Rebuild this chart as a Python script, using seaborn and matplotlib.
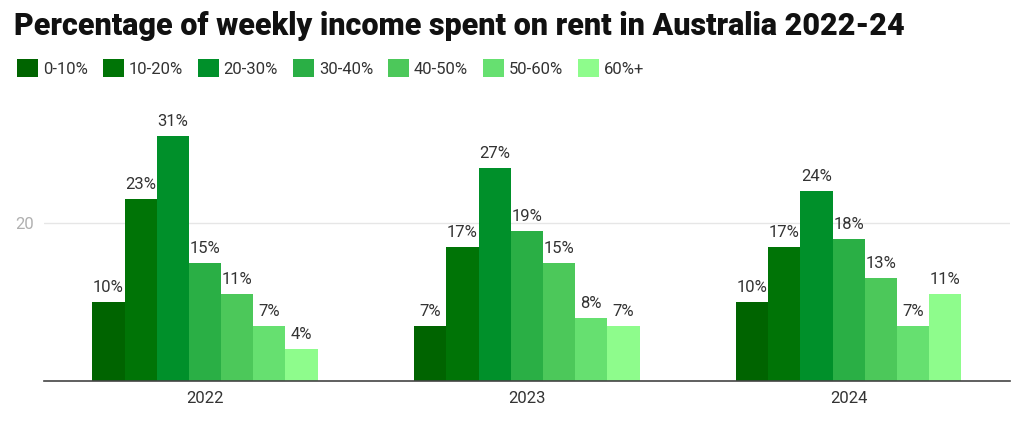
import matplotlib
matplotlib.use("Agg")
import matplotlib.pyplot as plt
import seaborn as sns
import pandas as pd
from matplotlib.patches import Patch

years = ["2022", "2023", "2024"]
brackets = ["0-10%", "10-20%", "20-30%", "30-40%", "40-50%", "50-60%", "60%+"]
v2022 = [10, 23, 31, 15, 11, 7, 4]
v2023 = [7, 17, 27, 19, 15, 8, 7]
v2024 = [10, 17, 24, 18, 13, 7, 11]
colors = ["#006400", "#007406", "#00902a", "#2aaf45", "#4cc85a", "#66e070", "#8efc8c"]

rows = []
for y, vals in zip(years, [v2022, v2023, v2024]):
    for b, v in zip(brackets, vals):
        rows.append({"year": y, "bracket": b, "value": v})
df = pd.DataFrame(rows)

sns.set_theme(style="white")
plt.rcParams['font.family'] = ['Roboto', 'DejaVu Sans']

fig = plt.figure(figsize=(10.24, 4.32), dpi=100)
ax = fig.add_axes([0.043, 0.118, 0.943, 0.662])
sns.barplot(data=df, x="year", y="value", hue="bracket", hue_order=brackets,
            palette=colors, width=0.7, saturation=1, ax=ax, legend=False,
            edgecolor="none", linewidth=0)

for c in ax.containers:
    ax.bar_label(c, fmt="%g%%", padding=5, fontsize=12, color="#333333")

ax.set_ylim(0, 36.2)
ax.set_yticks([20])
ax.set_yticklabels(["20"], color="#b0b0b0", fontsize=12)
ax.yaxis.grid(True, color="#e6e6e6", linewidth=1)
ax.set_axisbelow(True)
ax.tick_params(axis="y", length=0, pad=7)
ax.tick_params(axis="x", length=0, pad=7, labelsize=12, labelcolor="#333333")
ax.set_xlabel("")
ax.set_ylabel("")
for s in ["top", "right", "left"]:
    ax.spines[s].set_visible(False)
ax.spines["bottom"].set_color("#444444")
ax.spines["bottom"].set_linewidth(1.2)

fig.text(0.014, 0.94, "Percentage of weekly income spent on rent in Australia 2022-24",
         fontsize=22, fontweight="heavy", color="#111111", va="center")

handles = [Patch(facecolor=c, edgecolor="none") for c in colors]
fig.legend(handles, brackets, loc="center left", bbox_to_anchor=(0.002, 0.842),
           ncol=7, frameon=False, fontsize=12, handlelength=1.25, handleheight=1.25,
           handletextpad=0.3, columnspacing=0.9, labelcolor="#333333")

fig.savefig("out.png", dpi=100)
